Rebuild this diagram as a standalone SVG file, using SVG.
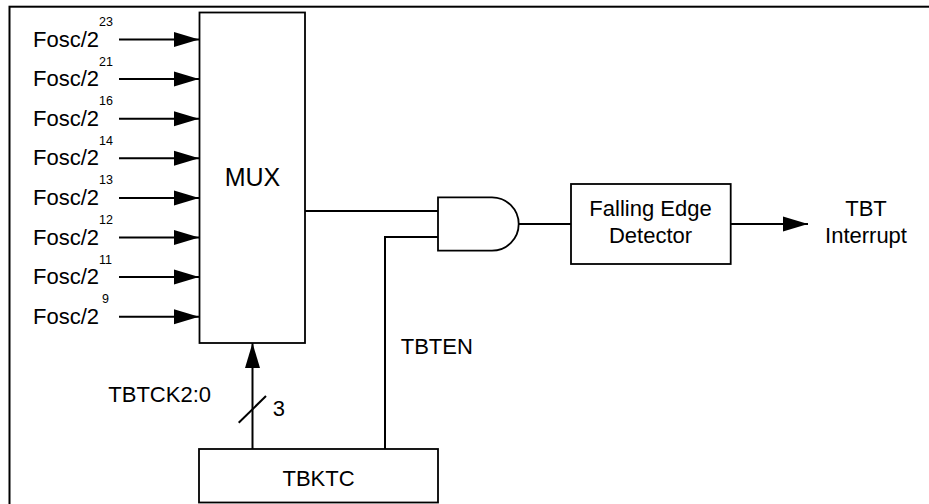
<svg xmlns="http://www.w3.org/2000/svg" width="929" height="504" viewBox="0 0 929 504">
<defs>
<style>
.box{fill:#fff;stroke:#000;stroke-width:1.8}
.w{fill:none;stroke:#000;stroke-width:2}
.t{font-family:"Liberation Sans",Arial,sans-serif;font-size:22px;fill:#000}
.s{font-family:"Liberation Sans",Arial,sans-serif;font-size:12.5px;fill:#000}
.m{text-anchor:middle}
</style>
<marker id="ah" markerUnits="userSpaceOnUse" markerWidth="25" markerHeight="16" refX="25" refY="8" orient="auto" viewBox="0 0 25 16">
<path d="M0,0.5 L25,8 L0,15.5 Z" fill="#000"/>
</marker>
</defs>
<rect width="929" height="504" fill="#fff"/>
<rect x="9.5" y="6.7" width="940" height="520" fill="none" stroke="#000" stroke-width="2"/>

<g id="connectors">
<line class="w" x1="119" y1="39.5" x2="199" y2="39.5" marker-end="url(#ah)"/>
<line class="w" x1="119" y1="79.1" x2="199" y2="79.1" marker-end="url(#ah)"/>
<line class="w" x1="119" y1="118.7" x2="199" y2="118.7" marker-end="url(#ah)"/>
<line class="w" x1="119" y1="158.3" x2="199" y2="158.3" marker-end="url(#ah)"/>
<line class="w" x1="119" y1="197.9" x2="199" y2="197.9" marker-end="url(#ah)"/>
<line class="w" x1="119" y1="237.5" x2="199" y2="237.5" marker-end="url(#ah)"/>
<line class="w" x1="119" y1="277.1" x2="199" y2="277.1" marker-end="url(#ah)"/>
<line class="w" x1="119" y1="316.7" x2="199" y2="316.7" marker-end="url(#ah)"/>
<line class="w" x1="305" y1="211" x2="438" y2="211"/>
<polyline class="w" points="438,237 385,237 385,449"/>
<line class="w" x1="519" y1="224" x2="571" y2="224"/>
<line class="w" x1="731" y1="224" x2="808" y2="224" marker-end="url(#ah)"/>
<line class="w" x1="252.5" y1="449" x2="252.5" y2="343" marker-end="url(#ah)"/>
<line class="w" x1="238.7" y1="422.7" x2="266" y2="396"/>
</g>

<g id="inputs">
<text class="t" x="33" y="46.5">Fosc/2</text><text class="s" x="99" y="26">23</text>
<text class="t" x="33" y="86.1">Fosc/2</text><text class="s" x="99" y="65.6">21</text>
<text class="t" x="33" y="125.7">Fosc/2</text><text class="s" x="99" y="105.2">16</text>
<text class="t" x="33" y="165.3">Fosc/2</text><text class="s" x="99" y="144.8">14</text>
<text class="t" x="33" y="204.9">Fosc/2</text><text class="s" x="99" y="184.4">13</text>
<text class="t" x="33" y="244.5">Fosc/2</text><text class="s" x="99" y="224">12</text>
<text class="t" x="33" y="284.1">Fosc/2</text><text class="s" x="99" y="263.6">11</text>
<text class="t" x="33" y="323.7">Fosc/2</text><text class="s" x="102" y="303.2">9</text>
</g>

<g id="mux">
<rect class="box" x="199.5" y="12.5" width="105.5" height="330.5"/>
<text class="t m" x="252.5" y="186" style="font-size:25px">MUX</text>
</g>

<g id="and">
<path class="box" d="M438,197.3 H492 A26.7,26.7 0 0 1 492,250.7 H438 Z"/>
</g>

<g id="fed">
<rect class="box" x="571" y="184" width="159.7" height="80"/>
<text class="t m" x="650.5" y="216">Falling Edge</text>
<text class="t m" x="650.5" y="243.3">Detector</text>
</g>

<g id="tbt">
<text class="t m" x="866" y="216">TBT</text>
<text class="t m" x="866" y="243.3">Interrupt</text>
</g>

<g id="tbktc">
<rect class="box" x="199" y="449" width="239" height="53.5"/>
<text class="t m" x="318.5" y="485.7">TBKTC</text>
</g>

<g id="labels">
<text class="t" x="108.3" y="402.3">TBTCK2:0</text>
<text class="t" x="272.7" y="416">3</text>
<text class="t" x="400.7" y="354">TBTEN</text>
</g>
</svg>
